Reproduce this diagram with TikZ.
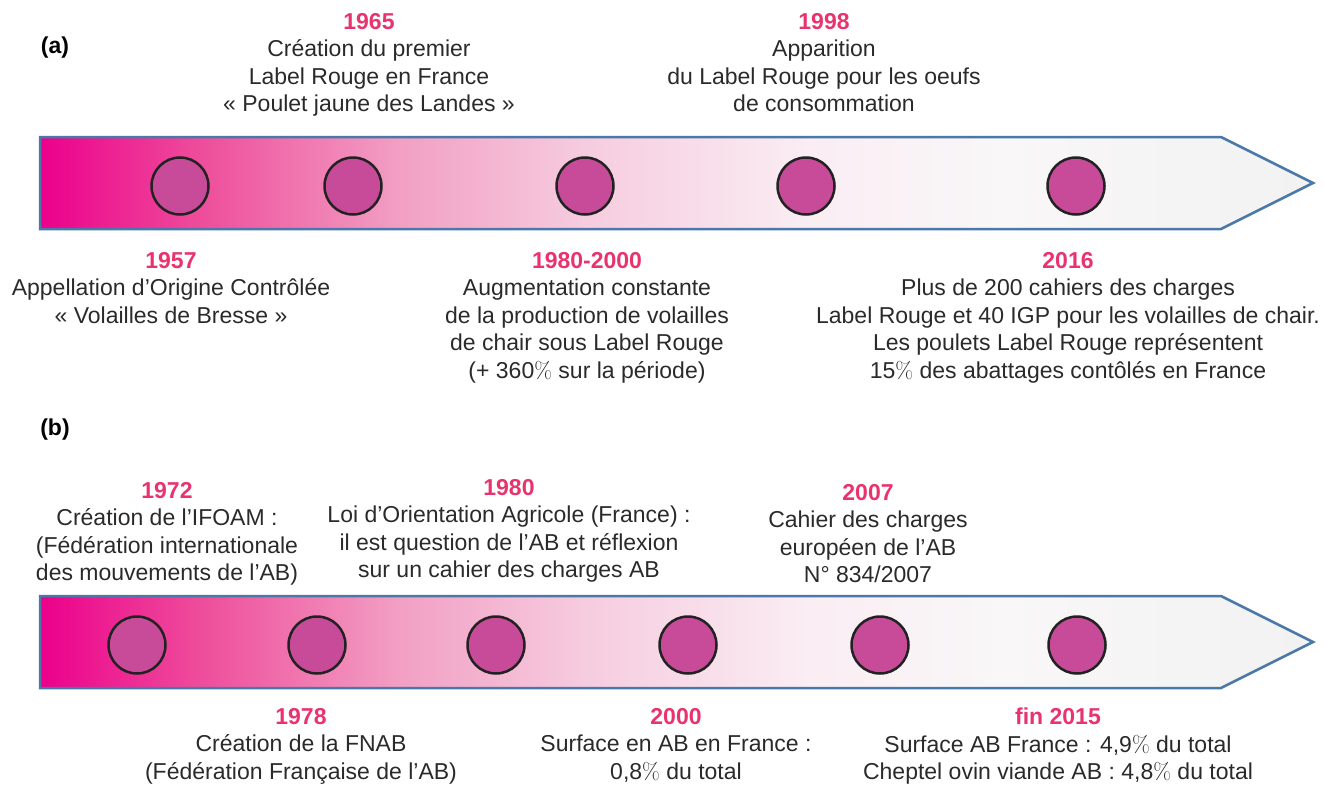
\documentclass[tikz,border=0pt]{standalone}
\usepackage{fontspec}
\setmainfont{Liberation Sans}
\newfontfamily\lmfont{Latin Modern Roman}
\definecolor{yrcol}{HTML}{E8336E}
\definecolor{txtcol}{HTML}{2A2A2A}
\definecolor{arrowblue}{HTML}{4A78A8}
\definecolor{dotfill}{HTML}{C84B9A}
\definecolor{dotline}{HTML}{222222}
\definecolor{g0}{HTML}{EC008C}
\definecolor{g1}{HTML}{EE4D9B}
\definecolor{g2}{HTML}{F2A0C4}
\definecolor{g3}{HTML}{F6CCDF}
\definecolor{g4}{HTML}{FAEDF3}
\definecolor{g5}{HTML}{F9F7F8}
\definecolor{g6}{HTML}{F2F2F2}
\pgfdeclarehorizontalshading{tlshade}{100bp}{color(0bp)=(g0); color(25bp)=(g0); color(31.3bp)=(g1); color(39.2bp)=(g2); color(46.4bp)=(g3); color(55.1bp)=(g4); color(62.7bp)=(g5); color(75bp)=(g6); color(100bp)=(g6)}
\newcommand{\yr}[1]{{\bfseries\color{yrcol}#1}}
\newcommand{\pct}{{\lmfont\%}}
\tikzset{
  ev/.style={anchor=north, align=center, inner sep=0pt, text=txtcol,
    font=\fontsize{23}{27.5}\selectfont},
  panel/.style={inner sep=0pt, text=black, font=\fontsize{23}{27.5}\selectfont\bfseries},
  dot/.style={circle, draw=dotline, line width=2.5pt, fill=dotfill, minimum size=57pt, inner sep=0pt},
  band/.style={shade, shading=tlshade, draw=arrowblue, line width=2.5pt, line join=miter}
}
\begin{document}
\begin{tikzpicture}[x=1pt,y=-1pt]
\useasboundingbox (0,0) rectangle (1324,784);
% (a)
\path[band] (40,137) -- (1221,137) -- (1313,183) -- (1221,229) -- (40,229) -- cycle;
\node[dot] (a1) at (180,186) {};
\node[dot] (a2) at (353,186) {};
\node[dot] (a3) at (585,186) {};
\node[dot] (a4) at (806,186) {};
\node[dot] (a5) at (1076,186) {};
\node[panel] (pa) at (55,48) {(a)};
\node[ev] (e1965) at (369,13) {\yr{1965}\\Création du premier\\Label Rouge en France\\« Poulet jaune des Landes »};
\node[ev] (e1998) at (824,13) {\yr{1998}\\Apparition\\du Label Rouge pour les oeufs\\de consommation};
\node[ev] (e1957) at (171,252) {\yr{1957}\\Appellation d’Origine Contrôlée\\« Volailles de Bresse »};
\node[ev] (e1980a) at (587,252) {\yr{1980-2000}\\Augmentation constante\\de la production de volailles\\de chair sous Label Rouge\\(+ 360\pct{} sur la période)};
\node[ev] (e2016) at (1068,252) {\yr{2016}\\Plus de 200 cahiers des charges\\Label Rouge et 40 IGP pour les volailles de chair.\\Les poulets Label Rouge représentent\\15\pct{} des abattages contôlés en France};
% (b)
\path[band] (40,596) -- (1221,596) -- (1313,642) -- (1221,688) -- (40,688) -- cycle;
\node[dot] (b1) at (137,645) {};
\node[dot] (b2) at (317,645) {};
\node[dot] (b3) at (496,645) {};
\node[dot] (b4) at (688,645) {};
\node[dot] (b5) at (880,645) {};
\node[dot] (b6) at (1077,645) {};
\node[panel] (pb) at (55,430) {(b)};
\node[ev] (e1972) at (167,482) {\yr{1972}\\Création de l’IFOAM :\\(Fédération internationale\\des mouvements de l’AB)};
\node[ev] (e1980b) at (509,479) {\yr{1980}\\Loi d’Orientation Agricole (France) :\\il est question de l’AB et réflexion\\sur un cahier des charges AB};
\node[ev] (e2007) at (868,484) {\yr{2007}\\Cahier des charges\\européen de l’AB\\N° 834/2007};
\node[ev] (e1978) at (301,708) {\yr{1978}\\Création de la FNAB\\(Fédération Française de l’AB)};
\node[ev] (e2000) at (676,708) {\yr{2000}\\Surface en AB en France :\\0,8\pct{} du total};
\node[ev] (e2015) at (1058,708) {\yr{fin 2015}\\Surface AB France : 4,9\pct{} du total\\Cheptel ovin viande AB : 4,8\pct{} du total};
\end{tikzpicture}
\end{document}
